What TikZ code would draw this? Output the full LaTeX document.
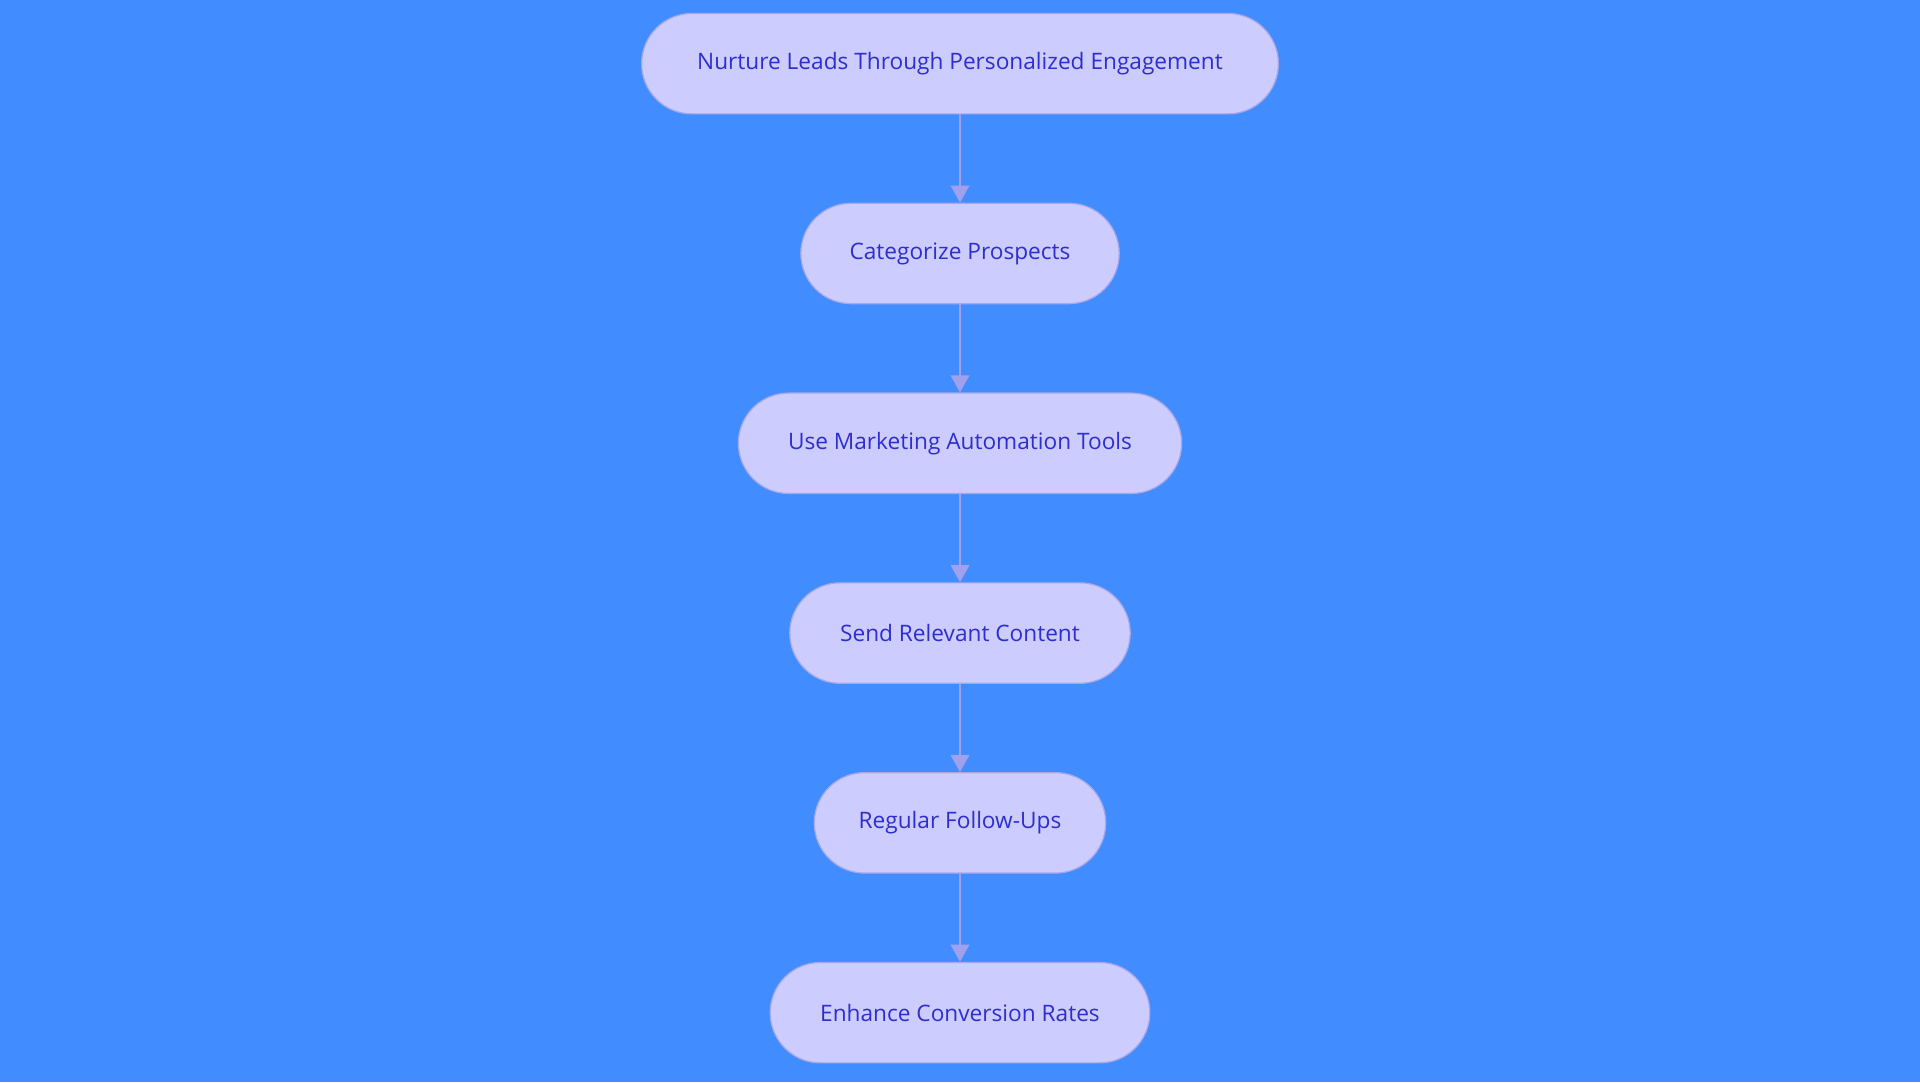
\documentclass[tikz,border=0pt]{standalone}
\usepackage{fontspec}
\setmainfont{Open Sans}
\usetikzlibrary{arrows.meta}
\definecolor{bgblue}{HTML}{418CFF}
\definecolor{boxfill}{HTML}{CCCCFF}
\definecolor{boxline}{HTML}{A8A8E8}
\definecolor{txtblue}{HTML}{2E2ECC}
\definecolor{arrowc}{HTML}{A0A0EC}
\tikzset{every picture/.style={line width=0.75pt}}
\tikzset{
  stage/.style={draw=boxline, fill=boxfill, rounded corners=41pt, minimum height=82pt,
    text=txtblue, font=\fontsize{18.5}{22}\selectfont, line width=1pt},
  flow/.style={draw=arrowc, line width=2pt, -{Triangle[length=14pt,width=15pt]}}
}

\begin{document}
\begin{tikzpicture}[x=1pt,y=1pt,yscale=-1,xscale=1]
% background
\fill [bgblue] (0,0) rectangle (1568,884);
\useasboundingbox (0,0) rectangle (1568,884);

% Nodes
\node [stage, minimum width=520pt] (nurture) at (784,52) {Nurture Leads Through Personalized Engagement};
\node [stage, minimum width=260pt] (categorize) at (784,207) {Categorize Prospects};
\node [stage, minimum width=362pt] (automation) at (784,362) {Use Marketing Automation Tools};
\node [stage, minimum width=278pt] (content) at (784,517) {Send Relevant Content};
\node [stage, minimum width=238pt] (followups) at (784,672) {Regular Follow-Ups};
\node [stage, minimum width=310pt] (conversion) at (784,827) {Enhance Conversion Rates};

% Arrows
\draw [flow] (nurture) -- (categorize);
\draw [flow] (categorize) -- (automation);
\draw [flow] (automation) -- (content);
\draw [flow] (content) -- (followups);
\draw [flow] (followups) -- (conversion);

\end{tikzpicture}
\end{document}
